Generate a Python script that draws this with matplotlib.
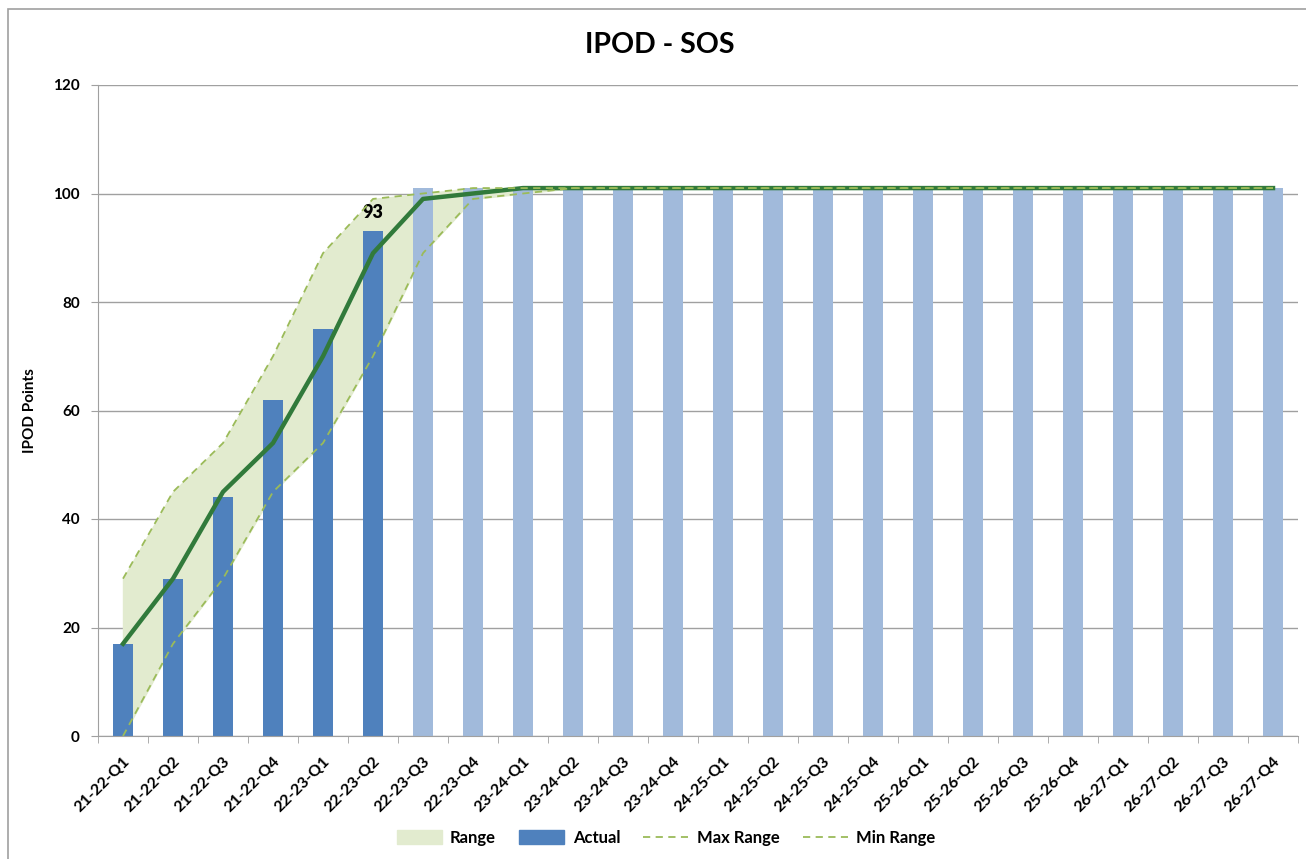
import matplotlib.pyplot as plt
from matplotlib.patches import Patch, Rectangle
from matplotlib.lines import Line2D

plt.rcParams['font.family'] = ['Lato', 'DejaVu Sans']

quarters = ['21-22-Q1', '21-22-Q2', '21-22-Q3', '21-22-Q4', '22-23-Q1', '22-23-Q2',
            '22-23-Q3', '22-23-Q4', '23-24-Q1', '23-24-Q2', '23-24-Q3', '23-24-Q4',
            '24-25-Q1', '24-25-Q2', '24-25-Q3', '24-25-Q4', '25-26-Q1', '25-26-Q2',
            '25-26-Q3', '25-26-Q4', '26-27-Q1', '26-27-Q2', '26-27-Q3', '26-27-Q4']
actual = [17, 29, 44, 62, 75, 93]
forecast = [101] * 18
target = [17, 29, 45, 54, 70, 89, 99, 100] + [101] * 16
max_range = [29, 45, 54, 70, 89, 99, 100, 101] + [101] * 16
min_range = [0, 17, 29, 45, 54, 70, 89, 99, 100] + [101] * 15

x = list(range(len(quarters)))

fig = plt.figure(figsize=(13.06, 8.59), dpi=100)
ax = fig.add_axes([98 / 1306, 1 - 736 / 859, 1200 / 1306, 651 / 859])

# outer chart frame
fig.patches.append(Rectangle((8 / 1306, -0.1), 1.2, 1 - 9 / 859 + 0.1, transform=fig.transFigure,
                             fill=False, edgecolor='#a0a0a0', linewidth=1.2))

ax.fill_between(x, min_range, max_range, color='#e2ebcf', zorder=1)
ax.bar(x[:6], actual, width=0.4, color='#4f81bd', zorder=2)
ax.bar(x[6:], forecast, width=0.4, color='#a1badb', zorder=2)
ax.plot(x, target, color='#317a3b', linewidth=3.2, zorder=3)
ax.plot(x, max_range, color='#9bbb59', linewidth=1.3, linestyle=(0, (4, 3)), zorder=4)
ax.plot(x, min_range, color='#9bbb59', linewidth=1.3, linestyle=(0, (4, 3)), zorder=4)

ax.text(x[5], actual[5] + 2, str(actual[5]), ha='center', va='bottom',
        fontsize=13, fontweight='heavy')

ax.set_xlim(-0.5, len(quarters) - 0.5)
ax.set_ylim(0, 120)
ax.set_yticks(range(0, 121, 20))
ax.set_yticklabels([str(v) for v in range(0, 121, 20)], fontsize=11, fontweight='bold')
ax.set_xticks(x)
ax.set_xticklabels(quarters, rotation=45, ha='right', rotation_mode='anchor',
                   fontsize=11.5, fontweight='bold')
ax.tick_params(axis='x', length=0, pad=13)
ax.set_xticks([i - 0.5 for i in range(len(quarters) + 1)], minor=True)
ax.tick_params(axis='x', which='minor', length=5, color='#a0a0a0')
ax.tick_params(axis='y', length=5, color='#a0a0a0', pad=8)

ax.grid(axis='y', color='#a0a0a0', linewidth=1)
ax.set_axisbelow(True)
for s in ['top', 'right']:
    ax.spines[s].set_visible(False)
ax.spines['left'].set_color('#a0a0a0')
ax.spines['bottom'].set_color('#a0a0a0')

ax.set_ylabel('IPOD Points', fontsize=11, fontweight='bold', labelpad=12)
fig.text(0.505, 1 - 45 / 859, 'IPOD - SOS', ha='center', va='center',
         fontsize=20.5, fontweight='bold')

handles = [Patch(color='#e2ebcf'), Patch(color='#4f81bd'),
           Line2D([], [], color='#9bbb59', linestyle=(0, (4, 3)), linewidth=1.3),
           Line2D([], [], color='#9bbb59', linestyle=(0, (4, 3)), linewidth=1.3)]
fig.legend(handles, ['Range', 'Actual', 'Max Range', 'Min Range'],
           loc='center', bbox_to_anchor=(0.51, 1 - 838 / 859), ncol=4, frameon=False,
           prop={'size': 12, 'weight': 'bold'}, handlelength=2.7, handleheight=0.9,
           handletextpad=0.5, columnspacing=1.4)

fig.savefig('out.png', dpi=100)
